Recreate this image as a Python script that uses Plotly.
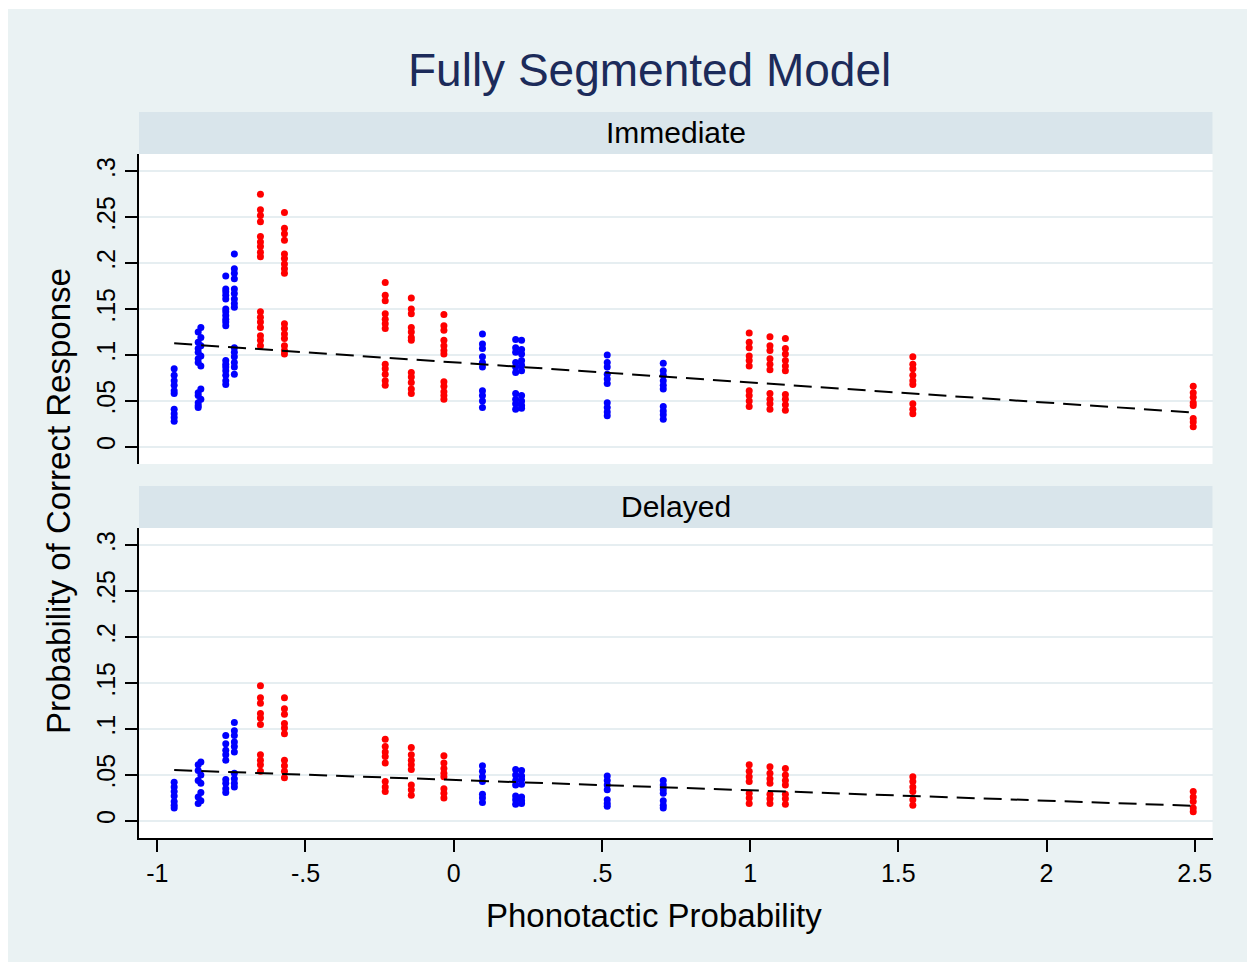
import plotly.graph_objects as go

W, H = 1247, 962

# ---- data ----
cluster_x = [-0.943, -0.862, -0.853, -0.769, -0.740, -0.652, -0.571, -0.231, -0.143, -0.033,
             0.097, 0.209, 0.229, 0.518, 0.707, 0.997, 1.067, 1.119, 1.549, 2.495]
cluster_group = ["blue", "blue", "blue", "blue", "blue", "red", "red", "red", "red", "red",
                 "blue", "blue", "blue", "blue", "blue", "red", "red", "red", "red", "red"]

immediate_values = [
    [0.085, 0.078, 0.072, 0.067, 0.061, 0.058, 0.041, 0.036, 0.032, 0.028],
    [0.125, 0.114, 0.107, 0.103, 0.096, 0.092, 0.059, 0.056, 0.048, 0.045, 0.043],
    [0.130, 0.119, 0.110, 0.099, 0.088, 0.063, 0.052],
    [0.186, 0.172, 0.169, 0.165, 0.161, 0.150, 0.147, 0.143, 0.139, 0.136, 0.132, 0.094, 0.090, 0.087, 0.083, 0.078, 0.072, 0.068],
    [0.210, 0.194, 0.189, 0.183, 0.172, 0.167, 0.161, 0.156, 0.152, 0.108, 0.103, 0.098, 0.092, 0.087, 0.079],
    [0.275, 0.258, 0.252, 0.245, 0.229, 0.223, 0.218, 0.212, 0.207, 0.147, 0.141, 0.136, 0.130, 0.121, 0.116, 0.110],
    [0.255, 0.238, 0.232, 0.225, 0.210, 0.205, 0.199, 0.194, 0.189, 0.134, 0.129, 0.123, 0.118, 0.110, 0.105, 0.101],
    [0.179, 0.165, 0.159, 0.145, 0.139, 0.134, 0.129, 0.090, 0.085, 0.079, 0.072, 0.067],
    [0.162, 0.150, 0.145, 0.130, 0.125, 0.119, 0.116, 0.081, 0.076, 0.070, 0.063, 0.058],
    [0.144, 0.132, 0.127, 0.116, 0.110, 0.105, 0.101, 0.071, 0.066, 0.060, 0.056, 0.052],
    [0.123, 0.112, 0.107, 0.098, 0.092, 0.087, 0.061, 0.056, 0.050, 0.043],
    [0.117, 0.108, 0.103, 0.092, 0.087, 0.081, 0.058, 0.052, 0.047, 0.041],
    [0.116, 0.106, 0.101, 0.094, 0.089, 0.083, 0.056, 0.050, 0.045, 0.042],
    [0.100, 0.092, 0.087, 0.079, 0.074, 0.069, 0.048, 0.043, 0.038, 0.034],
    [0.091, 0.083, 0.078, 0.072, 0.067, 0.063, 0.044, 0.039, 0.035, 0.030],
    [0.124, 0.114, 0.108, 0.099, 0.094, 0.088, 0.061, 0.056, 0.050, 0.044],
    [0.120, 0.110, 0.105, 0.096, 0.090, 0.084, 0.058, 0.052, 0.047, 0.041],
    [0.118, 0.107, 0.101, 0.094, 0.088, 0.083, 0.057, 0.052, 0.046, 0.040],
    [0.098, 0.090, 0.085, 0.078, 0.072, 0.068, 0.047, 0.041, 0.036],
    [0.066, 0.059, 0.054, 0.048, 0.045, 0.031, 0.027, 0.022],
]

delayed_values = [
    [0.042, 0.037, 0.032, 0.027, 0.021, 0.017, 0.014],
    [0.061, 0.055, 0.044, 0.026, 0.019],
    [0.064, 0.050, 0.041, 0.031, 0.022],
    [0.093, 0.084, 0.077, 0.072, 0.066, 0.045, 0.041, 0.035, 0.031],
    [0.107, 0.098, 0.093, 0.086, 0.081, 0.075, 0.052, 0.046, 0.041, 0.037],
    [0.147, 0.134, 0.128, 0.117, 0.112, 0.105, 0.072, 0.066, 0.061, 0.054],
    [0.134, 0.122, 0.116, 0.106, 0.101, 0.095, 0.066, 0.060, 0.054, 0.047],
    [0.089, 0.081, 0.075, 0.070, 0.063, 0.043, 0.037, 0.032],
    [0.080, 0.072, 0.066, 0.061, 0.056, 0.039, 0.034, 0.028],
    [0.071, 0.063, 0.057, 0.052, 0.048, 0.035, 0.030, 0.025],
    [0.060, 0.054, 0.048, 0.043, 0.029, 0.025, 0.020],
    [0.056, 0.050, 0.044, 0.039, 0.027, 0.023, 0.018],
    [0.055, 0.049, 0.045, 0.040, 0.026, 0.022, 0.019],
    [0.049, 0.044, 0.039, 0.034, 0.023, 0.019, 0.016],
    [0.044, 0.039, 0.034, 0.030, 0.022, 0.017, 0.014],
    [0.061, 0.054, 0.048, 0.043, 0.030, 0.025, 0.019],
    [0.059, 0.052, 0.046, 0.041, 0.029, 0.024, 0.019],
    [0.057, 0.050, 0.044, 0.039, 0.029, 0.024, 0.018],
    [0.048, 0.043, 0.037, 0.032, 0.023, 0.017],
    [0.032, 0.026, 0.021, 0.014, 0.010],
]

fit_x = [-0.943, 2.495]
fit_immediate = [0.1127, 0.0374]
fit_delayed = [0.0553, 0.0164]

x_tickvals = [-1, -0.5, 0, 0.5, 1, 1.5, 2, 2.5]
x_ticktext = ["-1", "-.5", "0", ".5", "1", "1.5", "2", "2.5"]
y_tickvals = [0, 0.05, 0.1, 0.15, 0.2, 0.25, 0.3]
y_ticktext = ["0", ".05", ".1", ".15", ".2", ".25", ".3"]

panel_names = ["Immediate", "Delayed"]
title_text = "Fully Segmented Model"
x_title = "Phonotactic Probability"
y_title = "Probability of Correct Response"

# ---- styles ----
FONT = "Liberation Sans, Arial, sans-serif"
BG = "#eaf2f3"
STRIP = "#d9e5eb"
GRID = "#e6eef1"
COLORS = {"blue": "#0000ff", "red": "#ff0000"}


def px_x(p):
    return p / W


def px_y(p):
    return 1 - p / H


def flatten(values, group):
    xs, ys = [], []
    for cx, g, vals in zip(cluster_x, cluster_group, values):
        if g == group:
            xs += [cx] * len(vals)
            ys += vals
    return xs, ys


fig = go.Figure()
for values, fit, xa, ya in [(immediate_values, fit_immediate, "x", "y"),
                            (delayed_values, fit_delayed, "x2", "y2")]:
    for g in ["blue", "red"]:
        xs, ys = flatten(values, g)
        fig.add_trace(go.Scatter(x=xs, y=ys, mode="markers", xaxis=xa, yaxis=ya,
                                 marker=dict(color=COLORS[g], size=7, line=dict(width=0)),
                                 showlegend=False, hoverinfo="skip"))
    fig.add_trace(go.Scatter(x=fit_x, y=fit, mode="lines", xaxis=xa, yaxis=ya,
                             line=dict(color="black", width=2, dash="18px,9px"),
                             showlegend=False, hoverinfo="skip"))

xdom = [px_x(139), px_x(1212.5)]
xrange = [-1.0617, 2.560]
yrange = [-0.0186, 0.3188]

yax = dict(range=yrange, tickvals=y_tickvals, ticktext=y_ticktext, tickangle=-90,
           ticks="outside", ticklen=12, tickwidth=2, tickcolor="black",
           showline=True, linecolor="black", linewidth=2,
           showgrid=True, gridcolor=GRID, gridwidth=2, zeroline=False,
           tickfont=dict(family=FONT, size=25, color="black"), fixedrange=True)

fig.update_layout(
    width=W, height=H,
    margin=dict(l=0, r=0, t=0, b=0),
    paper_bgcolor=BG, plot_bgcolor="white",
    font=dict(family=FONT, color="black"),
    xaxis=dict(domain=xdom, range=xrange, anchor="y", showticklabels=False, showline=False,
               ticks="", showgrid=False, zeroline=False),
    yaxis=dict(domain=[px_y(464), px_y(154)], anchor="x", **yax),
    xaxis2=dict(domain=xdom, range=xrange, anchor="y2", tickvals=x_tickvals, ticktext=x_ticktext,
                ticks="outside", ticklen=12, tickwidth=2, tickcolor="black",
                showline=True, linecolor="black", linewidth=2, showgrid=False, zeroline=False,
                tickfont=dict(family=FONT, size=25, color="black")),
    yaxis2=dict(domain=[px_y(838), px_y(528)], anchor="x2", **yax),
)

shapes = [
    dict(type="rect", xref="paper", yref="paper", x0=0, x1=px_x(8), y0=0, y1=1,
         fillcolor="white", line=dict(width=0), layer="below"),
    dict(type="rect", xref="paper", yref="paper", x0=0, x1=1, y0=px_y(9), y1=1,
         fillcolor="white", line=dict(width=0), layer="below"),
    dict(type="rect", xref="paper", yref="paper", x0=px_x(139), x1=px_x(1212.5),
         y0=px_y(154), y1=px_y(112), fillcolor=STRIP, line=dict(width=0), layer="below"),
    dict(type="rect", xref="paper", yref="paper", x0=px_x(139), x1=px_x(1212.5),
         y0=px_y(528), y1=px_y(486), fillcolor=STRIP, line=dict(width=0), layer="below"),
]
fig.update_layout(shapes=shapes)

ann = [
    dict(text=title_text, x=px_x(649), y=px_y(70), font=dict(size=46, color="#1c2b5a")),
    dict(text=panel_names[0], x=px_x(676), y=px_y(133), font=dict(size=30, color="black")),
    dict(text=panel_names[1], x=px_x(676), y=px_y(507), font=dict(size=30, color="black")),
    dict(text=x_title, x=px_x(653.5), y=px_y(915), font=dict(size=33, color="black")),
    dict(text=y_title, x=px_x(58), y=px_y(501), textangle=-90, font=dict(size=33, color="black")),
]
for a in ann:
    a.update(xref="paper", yref="paper", xanchor="center", yanchor="middle", showarrow=False)
    a["font"]["family"] = FONT
fig.update_layout(annotations=ann)

fig.write_html("out.html")
